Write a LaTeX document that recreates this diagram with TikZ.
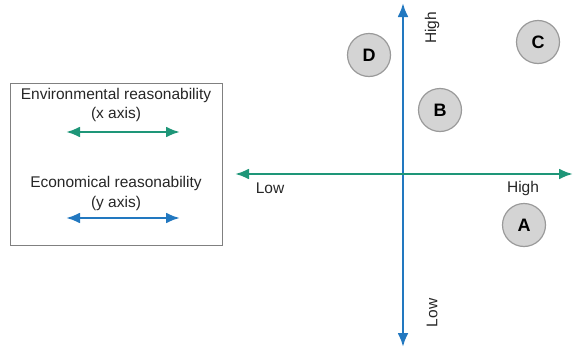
\documentclass[tikz,border=0pt]{standalone}
\usepackage{fontspec}
\setmainfont{Liberation Sans}
\usetikzlibrary{arrows.meta}
\definecolor{axgreen}{HTML}{1E9678}
\definecolor{axblue}{HTML}{2278C0}
\definecolor{ptfill}{HTML}{D4D4D4}
\definecolor{ptedge}{HTML}{9A9A9A}
\begin{document}
\begin{tikzpicture}[x=1pt,y=-1pt,
  lbl/.style={font=\fontsize{15.5}{18}\selectfont, text=black!85, inner sep=0pt},
  pt/.style={circle, draw=ptedge, fill=ptfill, line width=1.2pt, minimum size=43pt, inner sep=0pt, font=\fontsize{18}{20}\selectfont\bfseries},
  garrow/.style={draw=axgreen, line width=2.6pt, {Latex[length=14pt,width=11pt]}-{Latex[length=14pt,width=11pt]}},
  barrow/.style={draw=axblue, line width=2.6pt, {Latex[length=14pt,width=11pt]}-{Latex[length=14pt,width=11pt]}},
  legbox/.style={draw=black!50, line width=1pt}]
\useasboundingbox (0,0) rectangle (576,348);
% legend
\draw[legbox] (10,83) rectangle (222,245);
\node[lbl] (envt) at (116,95) {Environmental reasonability};
\node[lbl] (envx) at (116,114) {(x axis)};
\coordinate (gl) at (66,132);
\coordinate (gr) at (180,132);
\draw[garrow] (gl) -- (gr);
\node[lbl] (ecot) at (116,183) {Economical reasonability};
\node[lbl] (ecoy) at (116,203) {(y axis)};
\coordinate (bl) at (66,218);
\coordinate (br) at (180,218);
\draw[barrow] (bl) -- (br);
% axes
\coordinate (xl) at (235,174);
\coordinate (xr) at (573,174);
\coordinate (yt) at (403,3);
\coordinate (yb) at (403,347);
\draw[barrow] (yb) -- (yt);
\draw[garrow] (xl) -- (xr);
\node[lbl] (xlow) at (270,188) {Low};
\node[lbl] (xhigh) at (523,188) {High};
\node[lbl, rotate=90] (yhigh) at (432,28) {High};
\node[lbl, rotate=90] (ylow) at (432,313) {Low};
% points
\node[pt] (D) at (369,55) {D};
\node[pt] (C) at (538,42) {C};
\node[pt] (B) at (440,110) {B};
\node[pt] (A) at (524,225) {A};
\end{tikzpicture}
\end{document}
